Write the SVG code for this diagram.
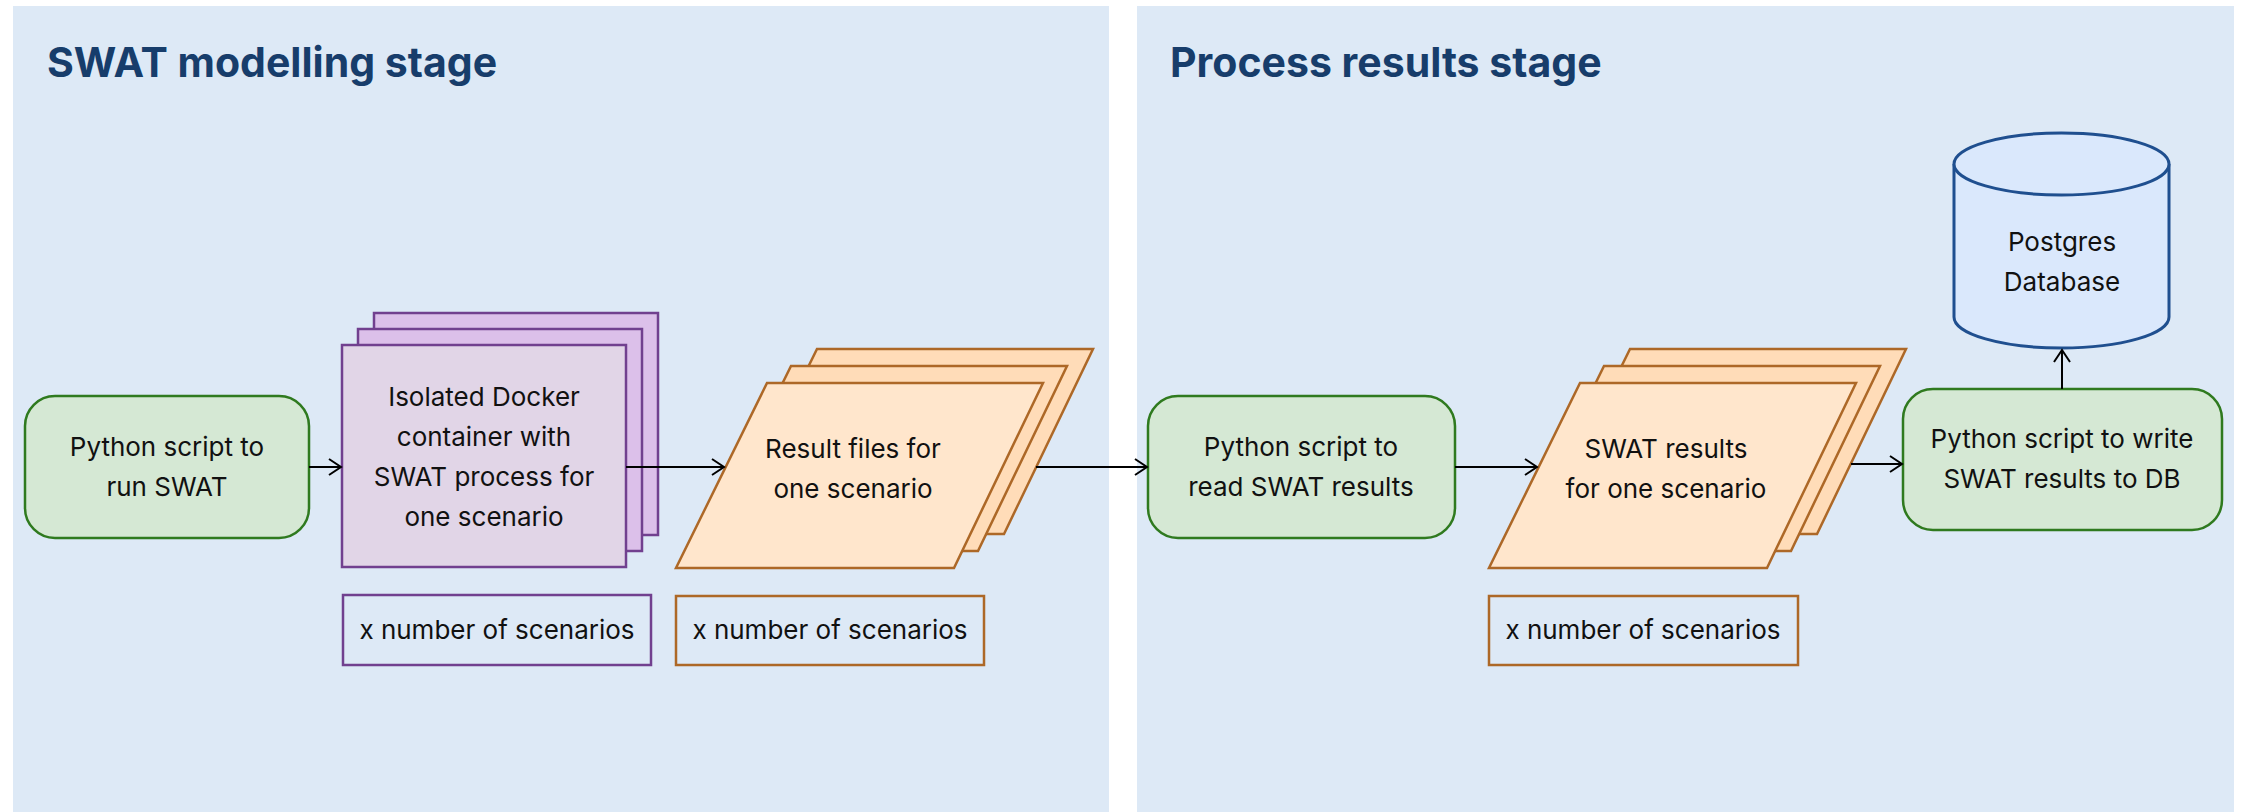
<svg xmlns="http://www.w3.org/2000/svg" width="2242" height="812" viewBox="0 0 2242 812">
<defs>
<marker id="arr" markerUnits="userSpaceOnUse" markerWidth="20" markerHeight="20" viewBox="-14 -10 16 20" refX="0" refY="0" orient="auto">
<path d="M-12,-8 L0,0 L-12,8" fill="none" stroke="#000" stroke-width="2"/>
</marker>
</defs>
<style>
.panel{fill:#dde9f6}
.title{font-family:Inter,"Liberation Sans",sans-serif;font-weight:700;font-size:41px;fill:#173d6b}
.t{font-family:Inter,"Liberation Sans",sans-serif;font-size:26px;fill:#111111;text-anchor:middle}
.green{fill:#d5e8d4;stroke:#2f7a1f;stroke-width:2.5}
.pf{fill:#e1d5e7;stroke:#71408f;stroke-width:2.5}
.pb{fill:#dcc0ea;stroke:#71408f;stroke-width:2.5}
.of{fill:#ffe6cc;stroke:#ad6827;stroke-width:2.5}
.ob{fill:#ffdcb8;stroke:#ad6827;stroke-width:2.5}
.lp{fill:none;stroke:#71408f;stroke-width:2.5}
.lo{fill:none;stroke:#ad6827;stroke-width:2.5}
.db{fill:#dae8fc;stroke:#1f4f8f;stroke-width:3}
.edge{fill:none;stroke:#000;stroke-width:2;marker-end:url(#arr)}
</style>
<rect width="2242" height="812" fill="#ffffff"/>
<g id="panel-swat">
<rect class="panel" x="13" y="6" width="1096" height="820"/>
<text class="title" x="47" y="77">SWAT modelling stage</text>
</g>
<g id="panel-process">
<rect class="panel" x="1137" y="6" width="1097" height="820"/>
<text class="title" x="1170" y="77">Process results stage</text>
</g>
<g id="run-swat">
<rect class="green" x="25" y="396" width="284" height="142" rx="30"/>
<text class="t" x="167" y="456">Python script to</text>
<text class="t" x="167" y="496">run SWAT</text>
</g>
<g id="docker">
<rect class="pb" x="374" y="313" width="284" height="222"/>
<rect class="pb" x="358" y="329" width="284" height="222"/>
<rect class="pf" x="342" y="345" width="284" height="222"/>
<text class="t" x="484" y="406">Isolated Docker</text>
<text class="t" x="484" y="446">container with</text>
<text class="t" x="484" y="486">SWAT process for</text>
<text class="t" x="484" y="526">one scenario</text>
</g>
<g id="label-docker">
<rect class="lp" x="343" y="595" width="308" height="70"/>
<text class="t" x="497" y="639">x number of scenarios</text>
</g>
<g id="result-files">
<polygon class="ob" points="817,349 1093,349 1004,534 726,534"/>
<polygon class="ob" points="791,366 1067,366 978,551 700,551"/>
<polygon class="of" points="767,383 1043,383 954,568 676,568"/>
<text class="t" x="853" y="458">Result files for</text>
<text class="t" x="853" y="498">one scenario</text>
</g>
<g id="label-results">
<rect class="lo" x="676" y="596" width="308" height="69"/>
<text class="t" x="830" y="639">x number of scenarios</text>
</g>
<g id="read-results">
<rect class="green" x="1148" y="396" width="307" height="142" rx="30"/>
<text class="t" x="1301" y="456">Python script to</text>
<text class="t" x="1301" y="496">read SWAT results</text>
</g>
<g id="swat-results">
<polygon class="ob" points="1630,349 1906,349 1817,534 1539,534"/>
<polygon class="ob" points="1604,366 1880,366 1791,551 1513,551"/>
<polygon class="of" points="1580,383 1856,383 1767,568 1489,568"/>
<text class="t" x="1666" y="458">SWAT results</text>
<text class="t" x="1666" y="498">for one scenario</text>
</g>
<g id="label-swat-results">
<rect class="lo" x="1489" y="596" width="309" height="69"/>
<text class="t" x="1643" y="639">x number of scenarios</text>
</g>
<g id="write-db">
<rect class="green" x="1903" y="389" width="319" height="141" rx="30"/>
<text class="t" x="2062" y="448">Python script to write</text>
<text class="t" x="2062" y="488">SWAT results to DB</text>
</g>
<g id="postgres">
<path class="db" d="M1954,164 A107.5,31 0 0 1 2169,164 V317 A107.5,31 0 0 1 1954,317 Z"/>
<path class="db" fill="none" d="M1954,164 A107.5,31 0 0 0 2169,164"/>
<text class="t" x="2062" y="251">Postgres</text>
<text class="t" x="2062" y="291">Database</text>
</g>
<g id="connectors">
<line class="edge" x1="309" y1="467" x2="341" y2="467"/>
<line class="edge" x1="626" y1="467" x2="724" y2="467"/>
<line class="edge" x1="1036" y1="467" x2="1147" y2="467"/>
<line class="edge" x1="1455" y1="467" x2="1537" y2="467"/>
<line class="edge" x1="1851" y1="464" x2="1902" y2="464"/>
<line class="edge" x1="2062" y1="389" x2="2062" y2="350"/>
</g>
</svg>
